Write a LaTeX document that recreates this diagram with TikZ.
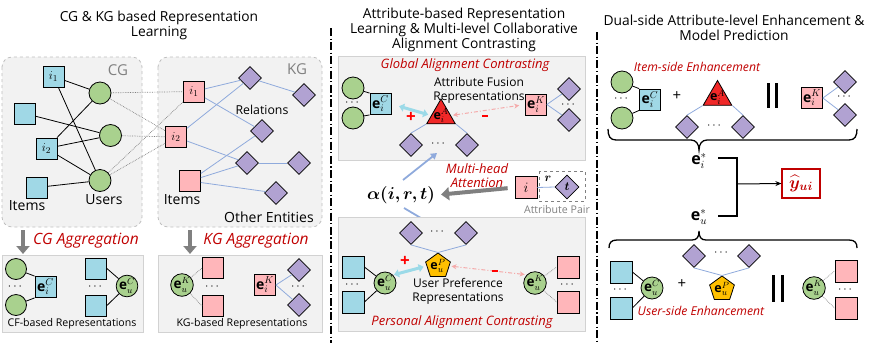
\documentclass[tikz,border=0pt]{standalone}
\usepackage{amsmath,bm}
\usepackage{fontspec}
\setmainfont{Open Sans}
\usetikzlibrary{shapes.geometric,arrows.meta,decorations.pathreplacing}
\definecolor{sqblue}{RGB}{160,216,230}
\definecolor{cgreen}{RGB}{169,209,142}
\definecolor{spink}{RGB}{255,182,186}
\definecolor{dpurple}{RGB}{177,162,210}
\definecolor{tred}{RGB}{240,40,40}
\definecolor{pgold}{RGB}{255,192,0}
\definecolor{eblue}{RGB}{143,170,220}
\definecolor{acyan}{RGB}{155,218,232}
\definecolor{apink}{RGB}{245,170,170}
\definecolor{txtred}{RGB}{192,0,0}
\definecolor{boxfill}{RGB}{242,242,242}
\definecolor{boxline}{RGB}{191,191,191}
\definecolor{garrow}{RGB}{128,128,128}
\begin{document}
\begin{tikzpicture}[x=1pt,y=-1pt,
  bsq/.style={rectangle, draw, fill=sqblue, minimum size=21, inner sep=0, line width=0.8, font=\fontsize{14}{14}\selectfont},
  psq/.style={bsq, fill=spink},
  gc/.style={circle, draw, fill=cgreen, minimum size=22, inner sep=0, line width=0.8, font=\fontsize{13.5}{14}\selectfont},
  dia/.style={diamond, draw, fill=dpurple, minimum width=23, minimum height=23, inner sep=0, line width=0.8, font=\fontsize{13}{14}\selectfont},
  tri/.style={regular polygon, regular polygon sides=3, draw, fill=tred, minimum size=33, inner sep=0, line width=0.8},
  pent/.style={regular polygon, regular polygon sides=5, draw, fill=pgold, minimum size=26, inner sep=0, line width=0.8},
  dots/.style={font=\fontsize{13}{13}\selectfont, inner sep=0},
  bl/.style={draw=eblue, line width=0.8},
  kl/.style={draw=black, line width=0.8},
  gl/.style={draw=gray, densely dotted, line width=0.7},
  grp/.style={draw=boxline, dashed, fill=boxfill, rounded corners=10, line width=0.8},
  sbox/.style={draw=boxline!70, fill=boxfill, line width=0.8},
  ttl/.style={font=\fontsize{13.8}{15}\selectfont, align=center},
  lbl/.style={font=\fontsize{14}{14}\selectfont, inner sep=0},
  small/.style={font=\fontsize{10.6}{14}\selectfont, align=center, inner sep=0},
  rlbl/.style={font=\fontsize{15.5}{16}\selectfont\itshape, text=txtred, inner sep=0},
  rsm/.style={font=\fontsize{13}{14}\selectfont\itshape, text=txtred, align=center, inner sep=0},
  rsr/.style={font=\fontsize{12.2}{14}\selectfont\itshape, text=txtred, align=center, inner sep=0},
  sign/.style={font=\fontsize{17}{17}\selectfont\bfseries, text=red, inner sep=0},
  glbl/.style={font=\fontsize{15}{15}\selectfont, text=garrow, inner sep=0},
  garr/.style={draw=garrow, line width=4.5, -{Triangle[width=13,length=8]}},
  carr/.style={draw=acyan, line width=3, {Triangle[width=8,length=5]}-{Triangle[width=8,length=5]}},
  parr/.style={draw=apink, line width=1, dash pattern=on 4pt off 2pt on 1pt off 2pt, {Stealth[length=5,width=5]}-{Stealth[length=5,width=5]}},
  barr/.style={draw=eblue, line width=1.8, -{Triangle[width=7,length=6]}},
  sep/.style={draw=black, line width=1.2, dash pattern=on 8pt off 2.5pt on 1.2pt off 2.5pt},
  mth/.style={font=\fontsize{12.5}{12}\selectfont, inner sep=0},
  brc/.style={draw=black, line width=1.3},
]
\useasboundingbox (0,0) rectangle (872,346);

% ================= Panel 1 =================
\node[ttl] (t1) at (159,25) {CG \& KG based Representation\\Learning};
\draw[grp] (2,57) rectangle (142,227);
\draw[grp] (158,57) rectangle (322,227);
\node[glbl] (cgl) at (118,70) {CG};
\node[glbl] (kgl) at (297,69) {KG};

\node[bsq, font=\fontsize{13}{14}\selectfont] (ci1) at (53.5,76.5) {$i_1$};
\node[bsq] (cs2) at (25,113.5) {};
\node[bsq, font=\fontsize{13}{14}\selectfont] (ci2) at (46.5,148.5) {$i_2$};
\node[bsq] (cs4) at (36.5,187.5) {};
\node[gc] (cu1) at (100,93) {};
\node[gc] (cu2) at (110.5,135.5) {};
\node[gc] (cu3) at (100,180.5) {};
\draw[kl] (ci1) -- (cu1);
\draw[kl] (ci1) -- (cu3);
\draw[kl] (cs2) -- (cu2);
\draw[kl] (ci2) -- (cu1);
\draw[kl] (ci2) -- (cu2);
\draw[kl] (ci2) -- (cu3);
\draw[kl] (cs4) -- (cu3);
\node[lbl] (itl1) at (27,206) {Items};
\node[lbl] (usl) at (104,200) {Users};

\node[psq, font=\fontsize{13}{14}\selectfont] (ki1) at (194,91.5) {$i_1$};
\node[psq, font=\fontsize{13}{14}\selectfont] (ki2) at (176,137) {$i_2$};
\node[psq] (ki3) at (190,181) {};
\node[dia] (d1) at (250,78) {};
\node[dia] (d2) at (304,95) {};
\node[dia] (d3) at (262,131) {};
\node[dia] (d4) at (247,163) {};
\node[dia] (d5) at (299,163) {};
\node[dia] (d6) at (276,193) {};
\draw[bl] (ki1) -- (d1);
\draw[bl] (ki1) -- (d3);
\draw[bl] (ki2) -- (d1);
\draw[bl] (ki2) -- (d4);
\draw[bl] (ki3) -- (d3);
\draw[bl] (ki3) -- (d4);
\draw[bl] (ki3) -- (d6);
\draw[bl] (d1) -- (d2);
\draw[bl] (d4) -- (d5);
\draw[gl] (cu1) -- (ki1);
\draw[gl] (cu1) -- (ki2);
\draw[gl] (cu2) -- (ki2);
\draw[gl] (cu3) -- (ki1);
\draw[gl] (cu3) -- (ki2);
\node[lbl, font=\fontsize{12.3}{13}\selectfont] (rell) at (262,110) {Relations};
\node[lbl] (itl2) at (182,200) {Items};
\node[lbl] (oel) at (269,217) {Other Entities};

\coordinate (a1s) at (23,230);
\coordinate (a1e) at (23,254);
\draw[garr] (a1s) -- (a1e);
\node[rlbl] (cga) at (86,241) {CG Aggregation};
\coordinate (a2s) at (190,230);
\coordinate (a2e) at (190,254);
\draw[garr] (a2s) -- (a2e);
\node[rlbl] (kga) at (256,241) {KG Aggregation};

\draw[sbox] (2,255) rectangle (143,332);
\node[gc, minimum size=21] (bc1) at (16,269) {};
\node[gc, minimum size=21] (bc2) at (16,305) {};
\node[dots] (bdt1) at (16,287) {$\cdots$};
\node[bsq] (beiC) at (45.5,287) {$\mathbf{e}_i^C$};
\draw[kl] (bc1) -- (beiC.north west);
\draw[kl] (bc2) -- (beiC.south west);
\node[bsq] (bs1) at (96,268.5) {};
\node[bsq] (bs2) at (96,305.5) {};
\node[dots] (bdt2) at (96,287) {$\cdots$};
\node[gc, minimum size=21] (beuC) at (127,286) {$\mathbf{e}_u^C$};
\draw[kl] (bs1.east) -- (beuC);
\draw[kl] (bs2.east) -- (beuC);
\node[small] (cfl) at (72,324) {CF-based Representations};

\draw[sbox] (158,255) rectangle (322,332);
\node[gc, minimum size=21] (beuK) at (182,285) {$\mathbf{e}_u^K$};
\node[psq] (bp1) at (213,268) {};
\node[psq] (bp2) at (213,306) {};
\node[dots] (bdt3) at (213,287) {$\cdots$};
\draw[gl] (beuK) -- (bp1.west);
\draw[gl] (beuK) -- (bp2.west);
\node[psq] (beiK) at (265,285) {$\mathbf{e}_i^K$};
\node[dia] (bd1) at (299,270) {};
\node[dia] (bd2) at (299,305) {};
\node[dots] (bdt4) at (299,287) {$\cdots$};
\draw[bl] (beiK.east) -- (bd1);
\draw[bl] (beiK.east) -- (bd2);
\node[small] (kgrl) at (242,324) {KG-based Representations};

% separators
\coordinate (s1a) at (331,28);
\coordinate (s1b) at (331,343);
\draw[sep] (s1a) -- (s1b);
\coordinate (s2a) at (597,32);
\coordinate (s2b) at (597,341);
\draw[sep] (s2a) -- (s2b);

% ================= Panel 2 =================
\node[ttl] (t2) at (464,30) {Attribute-based Representation\\Learning \& Multi-level Collaborative\\Alignment Contrasting};
\draw[sbox] (338,56) rectangle (585,160);
\node[rsm] (gac) at (465,65) {Global Alignment Contrasting};
\node[gc] (gc1) at (353,88) {};
\node[gc] (gc2) at (353,118) {};
\node[dots] (gdt1) at (353,103) {$\cdots$};
\node[bsq] (geiC) at (380.5,104) {$\mathbf{e}_i^C$};
\draw[kl] (gc1) -- (geiC.north west);
\draw[kl] (gc2) -- (geiC.south west);
\node[tri, label={[mth]center:$\mathbf{e}_i^A$}] (geiA) at (441,115.5) {};
\node[small, font=\fontsize{12}{14}\selectfont] (afr) at (479,90) {Attribute Fusion\\Representations};
\draw[carr, shorten <=8, shorten >=3] (geiC.east) -- (geiA.west);
\node[sign] (gplus) at (411,117) {+};
\node[psq] (geiK) at (536,104.5) {$\mathbf{e}_i^K$};
\draw[parr, shorten <=2, shorten >=6] (geiA.east) -- (geiK.west);
\node[inner sep=0] (gminus) at (485,116) {\textcolor{red}{\rule{6pt}{2.4pt}}};
\node[dia] (gd1) at (569,89) {};
\node[dia] (gd2) at (569,120) {};
\node[dots] (gdt2) at (569,105) {$\cdots$};
\draw[bl] (geiK.east) -- (gd1);
\draw[bl] (geiK.east) -- (gd2);
\node[dia] (gdl) at (411,145) {};
\node[dia] (gdr) at (467,145) {};
\node[dots] (gdt3) at (439,144) {$\cdots$};
\draw[bl] (gdl.north) -- (geiA.corner 2);
\draw[bl] (gdr.north) -- (geiA.corner 3);

\node[font=\fontsize{17}{17}\selectfont, inner sep=1] (alpha) at (401,195) {$\bm{\alpha(i,r,t)}$};
\coordinate (upt) at (437,153);
\coordinate (dnt) at (436,227);
\coordinate (ups) at (403,180);
\coordinate (dns) at (404,208);
\draw[barr] (ups) -- (upt);
\draw[barr] (dns) -- (dnt);
\node[rsm] (mha) at (477,176) {Multi-head\\Attention};
\node[psq, minimum size=22] (ai) at (526,187.5) {$i$};
\draw[dashed, draw=gray, line width=1] (539,171) rectangle (585,201);
\node[dia, minimum width=24, minimum height=24] (at) at (567,187) {$\bm t$};
\draw[bl] (ai.east) -- (at.west);
\node[font=\fontsize{12.5}{12}\selectfont, inner sep=0] (rl) at (548,179) {$\bm r$};
\node[small, text=garrow] (apl) at (557,209.5) {Attribute Pair};
\draw[garr, line width=4, shorten <=7, shorten >=5] (ai.west) -- (alpha.east);

\draw[sbox] (338,217) rectangle (585,331);
\node[dia] (pdl) at (411,233) {};
\node[dia] (pdr) at (466,233) {};
\node[dots] (pdt1) at (438,232) {$\cdots$};
\node[pent, label={[mth]center:$\mathbf{e}_u^P$}] (peuP) at (438,266) {};
\draw[bl] (pdl.south) -- (peuP.corner 1);
\draw[bl] (pdr.south) -- (peuP.corner 1);
\node[bsq, minimum size=22] (ps1) at (353,267) {};
\node[bsq, minimum size=22] (ps2) at (353,302) {};
\node[dots] (pdt2) at (353,285) {$\cdots$};
\node[gc] (peuC) at (385,283) {$\mathbf{e}_u^C$};
\draw[kl] (ps1.east) -- (peuC);
\draw[kl] (ps2.east) -- (peuC);
\draw[carr, shorten <=1, shorten >=3] (peuC.north east) -- (peuP.west);
\node[sign] (pplus) at (405,261) {+};
\node[small, font=\fontsize{12}{14}\selectfont] (upr) at (458,291) {User Preference\\Representations};
\node[gc] (peuK) at (535,283) {$\mathbf{e}_u^K$};
\draw[parr, shorten <=2, shorten >=2] (peuP.east) -- (peuK.north west);
\node[inner sep=0] (pminus) at (495,271) {\textcolor{red}{\rule{6pt}{2.4pt}}};
\node[psq, minimum size=22] (pp1) at (568,267) {};
\node[psq, minimum size=22] (pp2) at (568,302) {};
\node[dots] (pdt3) at (568,285) {$\cdots$};
\draw[gl] (peuK) -- (pp1.west);
\draw[gl] (peuK) -- (pp2.west);
\node[rsm] (pac) at (462,322) {Personal Alignment Contrasting};

% ================= Panel 3 =================
\node[ttl] (t3) at (734,27.5) {Dual-side Attribute-level Enhancement \&\\Model Prediction};
\node[rsr] (ise) at (697,67) {Item-side Enhancement};
\node[gc] (rc1) at (622,82) {};
\node[gc] (rc2) at (622,118) {};
\node[dots] (rdt1) at (622,99) {$\cdots$};
\node[bsq] (reiC) at (650,99.5) {$\mathbf{e}_i^C$};
\draw[kl] (rc1) -- (reiC.north west);
\draw[kl] (rc2) -- (reiC.south west);
\node[font=\fontsize{15}{15}\selectfont, inner sep=0] (rplus1) at (677,96) {+};
\node[tri, label={[mth]center:$\mathbf{e}_i^A$}] (reiA) at (717.5,97) {};
\node[dia] (rdl) at (687,127) {};
\node[dia] (rdr) at (743,127) {};
\node[dots] (rdt2) at (715,126) {$\cdots$};
\draw[bl] (rdl.north) -- (reiA.corner 2);
\draw[bl] (rdr.north) -- (reiA.corner 3);
\draw[line width=3] (768.3,83) -- (768.3,108);
\draw[line width=3] (776.7,83) -- (776.7,108);
\node[psq] (reiK) at (812,98) {$\mathbf{e}_i^K$};
\node[dia] (rd1) at (845,82) {};
\node[dia] (rd2) at (845,115) {};
\node[dots] (rdt3) at (845,97) {$\cdots$};
\draw[bl] (reiK.east) -- (rd1);
\draw[bl] (reiK.east) -- (rd2);
% top brace (tip down)
\draw[brc] (608,129) .. controls (608,136) and (610,140) .. (616,140) -- (691,140)
  .. controls (696,140) and (699,144) .. (699,150)
  .. controls (699,144) and (702,140) .. (707,140) -- (849,140)
  .. controls (855,140) and (857,136) .. (857,129);

\node[font=\fontsize{16}{16}\selectfont, inner sep=1] (eis) at (699,161) {$\mathbf{e}_i^*$};
\node[font=\fontsize{16}{16}\selectfont, inner sep=1] (eus) at (699,217) {$\mathbf{e}_u^*$};
\coordinate (jn) at (737,184);
\coordinate (jt) at (718,158);
\coordinate (jb) at (718,216);
\node[draw=txtred, line width=1.2, minimum width=38, minimum height=29, inner sep=0, text=txtred, font=\fontsize{17}{17}\selectfont] (yh) at (801,183.5) {$\widehat{\bm y}_{\bm{ui}}$};
\draw[line width=1.3] (jt) -| (jn);
\draw[line width=1.3] (jb) -| (jn);
\draw[line width=1, -{Stealth[length=6,width=5]}] (jn) -- (yh.west);

% bottom brace (tip up)
\draw[brc] (609,248) .. controls (609,243) and (611,240) .. (617,240) -- (692,240)
  .. controls (697,240) and (699,237) .. (699,231)
  .. controls (699,237) and (701,240) .. (706,240) -- (849,240)
  .. controls (855,240) and (857,243) .. (857,248);
\node[dia] (udl) at (694,256) {};
\node[dia] (udr) at (749,256) {};
\node[dots] (udt1) at (722,253) {$\cdots$};
\node[pent, label={[mth]center:$\mathbf{e}_u^P$}] (ueuP) at (722,289) {};
\draw[bl] (udl.south) -- (ueuP.corner 1);
\draw[bl] (udr.south) -- (ueuP.corner 1);
\node[bsq, minimum size=22] (us1) at (621,272) {};
\node[bsq, minimum size=22] (us2) at (621,308) {};
\node[dots] (udt2) at (621,290) {$\cdots$};
\node[gc] (ueuC) at (652,288) {$\mathbf{e}_u^C$};
\draw[kl] (us1.east) -- (ueuC);
\draw[kl] (us2.east) -- (ueuC);
\node[font=\fontsize{15}{15}\selectfont, inner sep=0] (rplus2) at (682,284) {+};
\draw[line width=3] (773.3,275) -- (773.3,302);
\draw[line width=3] (782.3,275) -- (782.3,302);
\node[gc] (ueuK) at (814,288) {$\mathbf{e}_u^K$};
\node[psq, minimum size=22] (up1) at (846,271) {};
\node[psq, minimum size=22] (up2) at (846,308) {};
\node[dots] (udt3) at (846,290) {$\cdots$};
\draw[gl] (ueuK) -- (up1.west);
\draw[gl] (ueuK) -- (up2.west);
\node[rsr] (use) at (701,311) {User-side Enhancement};
\end{tikzpicture}
\end{document}
